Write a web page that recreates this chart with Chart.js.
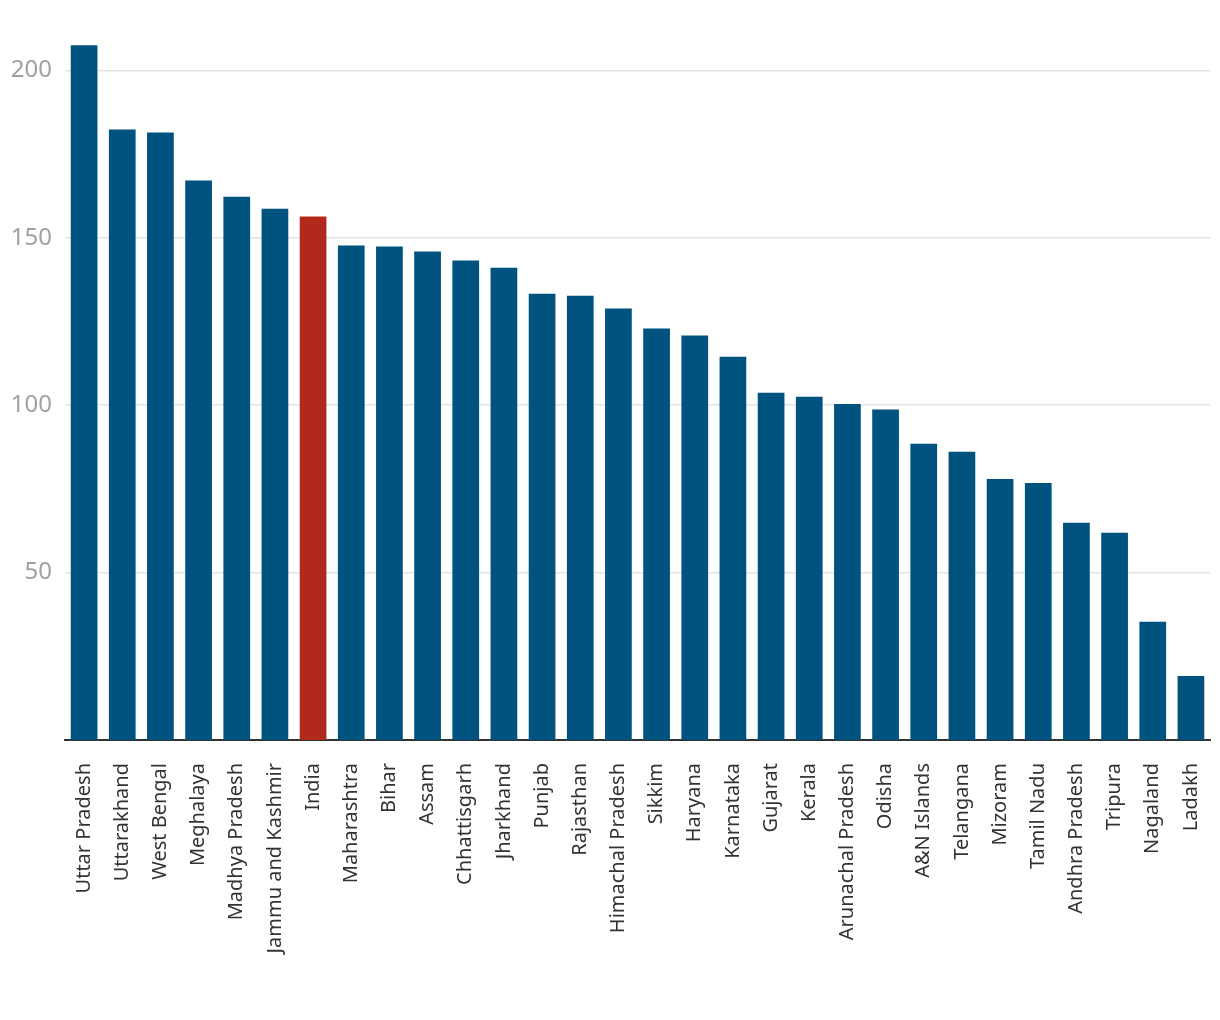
<!DOCTYPE html>
<html>
<head>
<meta charset="utf-8">
<script src="https://cdn.jsdelivr.net/npm/chart.js@4"></script>
<style>
  body { margin: 0; background: #fff; }
  #wrap { width: 1220px; height: 1020px; }
</style>
</head>
<body>
<div id="wrap"><canvas id="stateChart"></canvas></div>
<script>
const states = ['Uttar Pradesh', 'Uttarakhand', 'West Bengal', 'Meghalaya', 'Madhya Pradesh',
    'Jammu and Kashmir', 'India', 'Maharashtra', 'Bihar', 'Assam', 'Chhattisgarh', 'Jharkhand',
    'Punjab', 'Rajasthan', 'Himachal Pradesh', 'Sikkim', 'Haryana', 'Karnataka', 'Gujarat',
    'Kerala', 'Arunachal Pradesh', 'Odisha', 'A&N Islands', 'Telangana', 'Mizoram',
    'Tamil Nadu', 'Andhra Pradesh', 'Tripura', 'Nagaland', 'Ladakh'];
const values = [207.5, 182.4, 181.5, 167.1, 162.3, 158.7, 156.4, 147.7, 147.4, 145.9, 143.2, 141.1,
    133.3, 132.7, 128.9, 122.9, 120.8, 114.5, 103.7, 102.5, 100.4, 98.7, 88.5, 86.1, 78.0,
    76.8, 64.9, 61.9, 35.3, 19.1];
const yTicks = [50, 100, 150, 200];
const highlight = 'India';

const blue = '#00527f';
const red = '#b0291a';

const ctx = document.getElementById('stateChart').getContext('2d');
let chart = new Chart(ctx, {
    type: 'bar',
    data: {
        labels: states,
        datasets: [{
            data: values,
            backgroundColor: states.map(s => s === highlight ? red : blue),
            barPercentage: 0.7,
            categoryPercentage: 1.0
        }]
    },
    options: {
        responsive: true,
        maintainAspectRatio: false,
        animation: false,
        layout: { padding: { top: 37, right: 10, left: 0, bottom: 0 } },
        plugins: {
            legend: { display: false },
            tooltip: { enabled: false }
        },
        scales: {
            x: {
                grid: { display: false },
                border: { display: true, color: '#333333', width: 2 },
                ticks: {
                    minRotation: 90,
                    maxRotation: 90,
                    autoSkip: false,
                    padding: 15,
                    color: '#333333',
                    font: { family: 'Noto Sans', size: 20 }
                },
                afterFit: scale => {
                    scale.height = 280;
                    scale.paddingLeft = 0;
                    scale.paddingRight = 0;
                }
            },
            y: {
                min: 0,
                max: 210,
                border: { display: false },
                grid: { color: '#e4e4e4', lineWidth: 1.5, drawTicks: false },
                afterBuildTicks: scale => {
                    scale.ticks = yTicks.map(v => ({ value: v }));
                },
                ticks: {
                    padding: 13,
                    color: '#a0a0a0',
                    font: { family: 'Noto Sans', size: 24 }
                },
                afterFit: scale => { scale.width = 65; }
            }
        }
    }
});
</script>
</body>
</html>
